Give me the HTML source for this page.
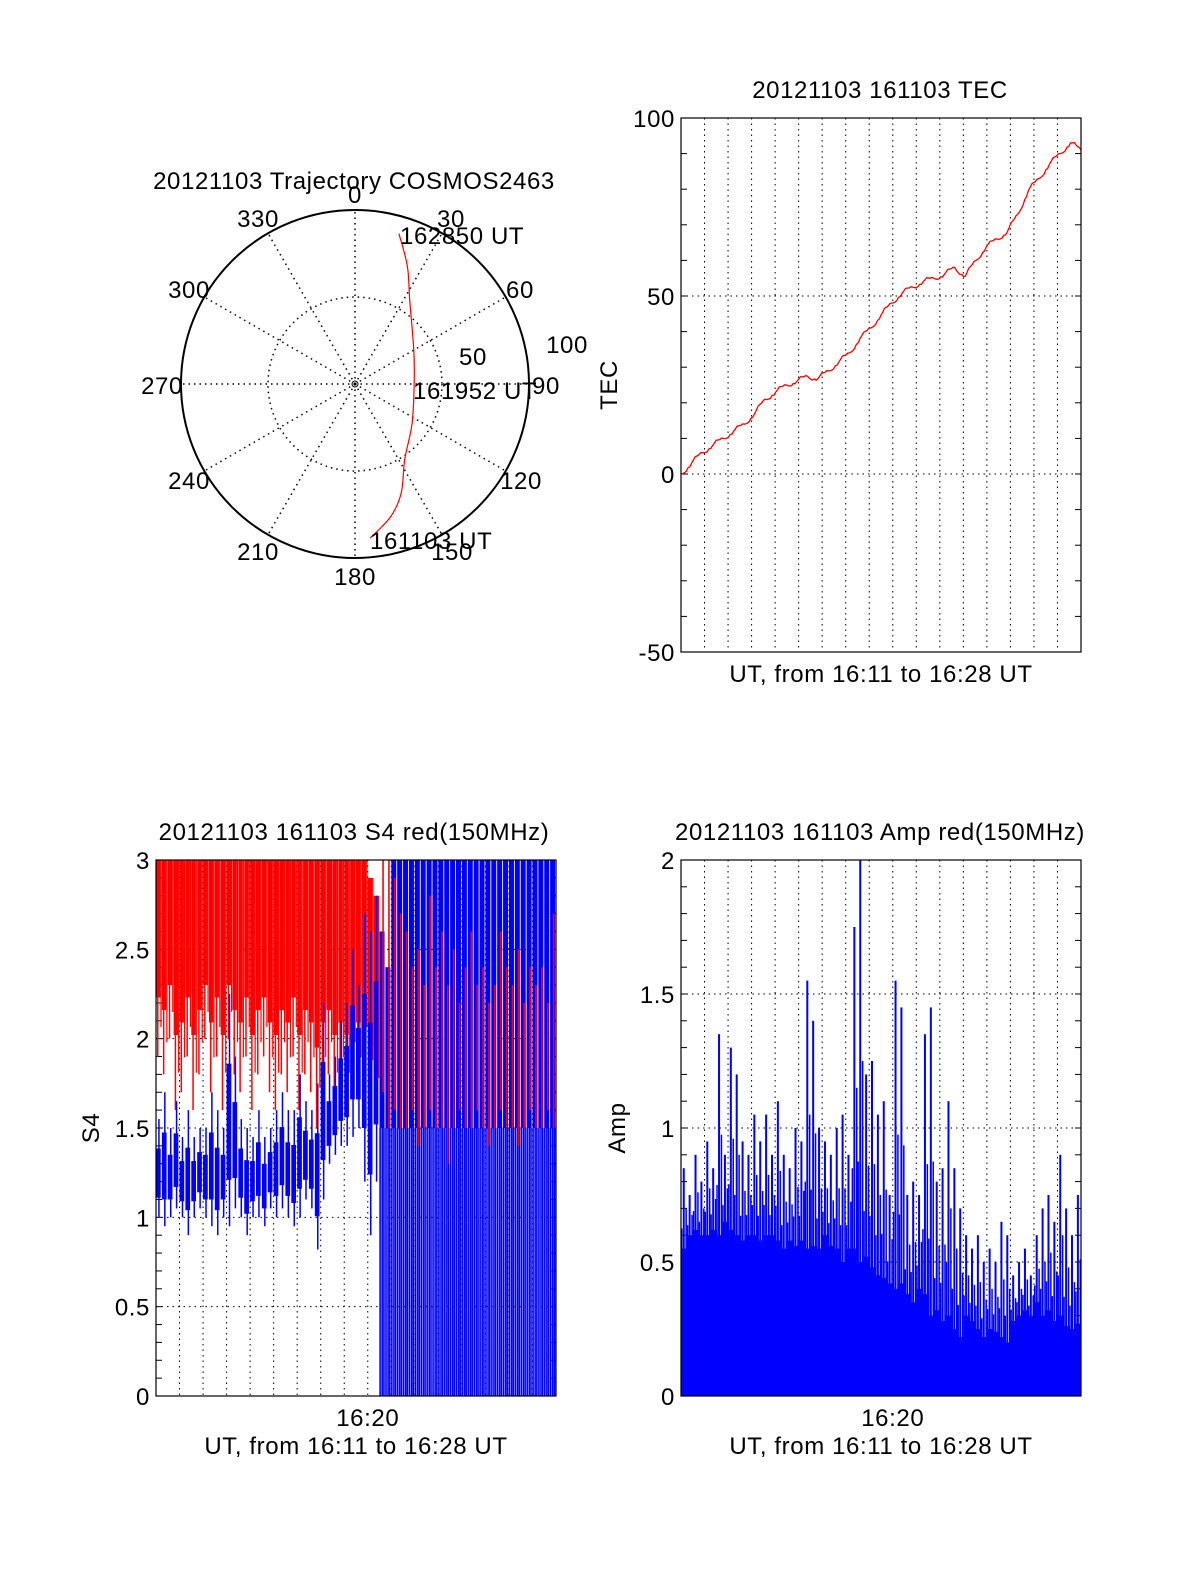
<!DOCTYPE html>
<html><head><meta charset="utf-8"><style>
html,body{margin:0;padding:0;background:#fff}
svg{display:block}
text{font-family:"Liberation Sans",sans-serif;font-size:24px;letter-spacing:0.6px;fill:#000}
</style></head><body>
<svg id="fig" width="1200" height="1575" viewBox="0 0 1200 1575" xmlns="http://www.w3.org/2000/svg">
<g id="polar"></g>
<g id="tec"></g>
<g id="s4"></g>
<g id="amp"></g>
</svg>
<script>
// ---- data ----
const trajAz = [174.4, 165, 157, 146.7, 125, 90, 60, 33, 24, 16.3];
const trajR  = [89, 79, 68, 52, 40, 34, 39, 57.7, 74, 90];
const trajLabels = ["161103 UT", "161952 UT", "162850 UT"];
const azLabels = [0,30,60,90,120,150,180,210,240,270,300,330];
// TEC, every half minute from 16:11 to 16:28
const tecValues = [0,3,6,8,10,12,14,17,21,23,25,26,27.5,26.7,29,31.5,34,38,41,44.6,48,50.8,52.5,54,55,56,58,55.5,60,63.8,66,68,73,79.6,83,87,90,93,91];
const tecTicks = [100,50,0,-50];
// S4, 4 bins per minute (68 bins)
const s4RedHi = [3,3,3,3,3,3,3,3,3,3,3,3,3,3,3,3,3,3,3,3,3,3,3,3,3,3,3,3,3,3,3,3,3,3,3,3,2.9,2.8,3,3,2.9,2.7,2.6,2.4,2.5,2.3,2.8,2.4,2.6,2.3,2.5,2.2,2.4,2.6,2.3,2.4,2.2,2.3,2.6,2.4,2.3,2.5,2.2,2.4,2.3,2.4,2.2,2.7];
const s4RedLo = [1.9,1.8,2.0,1.6,1.7,1.9,1.6,1.8,2.0,1.7,1.9,1.6,2.0,1.8,1.7,1.9,1.6,1.8,1.9,1.7,1.6,1.8,1.7,1.9,1.6,1.8,1.7,1.5,1.7,1.8,1.6,1.7,1.6,1.8,1.7,1.9,1.7,1.6,1.7,1.5,1.6,1.5,1.5,1.6,1.4,1.5,1.6,1.5,1.5,1.3,1.5,1.6,1.5,1.5,1.6,1.5,1.4,1.5,1.6,1.5,1.5,1.4,1.5,1.6,1.5,1.5,1.6,1.5];
const s4BlueHi = [1.55,1.7,1.5,1.65,1.45,1.6,1.45,1.5,1.5,1.7,1.6,1.5,2.25,1.9,1.55,1.5,1.45,1.6,1.45,1.5,1.6,1.7,1.6,1.6,1.8,1.65,1.6,1.75,2.2,1.8,1.9,2.1,2.2,2.5,2.3,2.7,2.6,2.8,2.6,2.4,3,3,3,3,3,3,3,3,3,3,3,3,3,3,3,3,3,3,3,3,3,3,3,3,3,3,3,3];
const s4BlueLo = [1.0,0.95,1.0,1.05,1.0,0.9,1.0,1.05,1.0,0.95,0.9,1.0,0.95,1.05,1.0,0.9,1.0,1.0,0.95,1.05,1.0,1.05,1.0,0.95,1.0,1.1,1.05,0.82,1.1,1.3,1.35,1.4,1.4,1.45,1.5,1.2,0.9,1.2,0.0,0.0,0,0,0,0,0,0,0,0,0,0,0,0,0,0,0,0,0,0,0,0,0,0,0,0,0,0,0,0];
const s4Ticks = ["0","0.5","1","1.5","2","2.5","3"];
// Amp, 4 bins per minute (68 bins)
const ampBase = [0.55,0.6,0.62,0.6,0.6,0.62,0.6,0.65,0.62,0.6,0.58,0.6,0.6,0.58,0.6,0.6,0.58,0.55,0.58,0.56,0.58,0.55,0.56,0.55,0.6,0.56,0.55,0.5,0.55,0.55,0.5,0.52,0.48,0.45,0.44,0.42,0.4,0.42,0.38,0.35,0.4,0.38,0.3,0.32,0.28,0.3,0.25,0.22,0.3,0.28,0.25,0.22,0.25,0.24,0.22,0.2,0.28,0.3,0.32,0.3,0.35,0.3,0.32,0.28,0.3,0.26,0.25,0.27];
const ampPeak = [0.85,0.75,0.9,0.8,0.95,0.85,1.35,0.9,1.3,1.2,0.95,0.9,1.05,0.95,1.05,0.9,1.1,0.9,0.85,1.0,0.95,1.55,1.4,1.0,0.95,0.9,1.0,1.05,0.9,1.75,2.0,1.2,1.25,1.05,1.1,0.75,1.55,1.45,0.75,0.8,0.75,1.35,1.45,0.8,0.85,1.1,0.85,0.7,0.6,0.55,0.6,0.5,0.55,0.5,0.65,0.6,0.45,0.5,0.55,0.45,0.6,0.7,0.75,0.65,0.9,0.7,0.6,0.75];
const ampTicks = ["0","0.5","1","1.5","2"];
const NS = "http://www.w3.org/2000/svg";
function mk(parent, tag, attrs, txt){
  const e = document.createElementNS(NS, tag);
  for (const k in attrs) e.setAttribute(k, attrs[k]);
  if (txt !== undefined) e.textContent = txt;
  parent.appendChild(e); return e;
}
// ---------- polar ----------
(function(){
  const g = document.getElementById('polar');
  const cx = 355, cy = 384, R = 174;
  const t = mk(g,'text',{x:354,y:189,'text-anchor':'middle'},"20121103 Trajectory COSMOS2463");
  
  
  for (let a=0;a<360;a+=30){
    const rad = a*Math.PI/180;
    const l = mk(g,'line',{x1:cx,y1:cy,x2:cx+R*Math.sin(rad),y2:cy-R*Math.cos(rad),stroke:'#000','stroke-width':1.5,'stroke-dasharray':'1.5 4'});
    
    
  }
  const c1 = mk(g,'circle',{cx:cx,cy:cy,r:R*0.5,fill:'none',stroke:'#000','stroke-width':1.5,'stroke-dasharray':'1.5 4'});
  
  
  const c2 = mk(g,'circle',{cx:cx,cy:cy,r:R,fill:'none',stroke:'#000','stroke-width':2});
  
  
  const c3 = mk(g,'circle',{cx:cx,cy:cy,r:3,fill:'none',stroke:'#000','stroke-width':1});
  
  
  const lp = {0:[355,203],30:[451,227],60:[520,298],90:[546,394],120:[521,489],150:[452,560],180:[355,585],210:[258,560],240:[189,489],270:[162,394],300:[189,298],330:[258,227]};
  azLabels.forEach(a=>{
    const p = lp[a];
    const e = mk(g,'text',{x:p[0],y:p[1],'text-anchor':'middle'},String(a));
    
    
  });
  const r100 = mk(g,'text',{x:567,y:353,'text-anchor':'middle'},"100");
  
  
  const r50 = mk(g,'text',{x:473,y:365,'text-anchor':'middle'},"50");
  
  
  const pts = trajAz.map((a,i)=>{const rad=a*Math.PI/180, r=trajR[i]/100*R; return [cx+r*Math.sin(rad), cy-r*Math.cos(rad)];});
  // smooth Catmull-Rom path through points
  let d = `M${pts[0][0]},${pts[0][1]}`;
  for (let i=0;i<pts.length-1;i++){
    const p0=pts[Math.max(0,i-1)], p1=pts[i], p2=pts[i+1], p3=pts[Math.min(pts.length-1,i+2)];
    const c1x=p1[0]+(p2[0]-p0[0])/6, c1y=p1[1]+(p2[1]-p0[1])/6;
    const c2x=p2[0]-(p3[0]-p1[0])/6, c2y=p2[1]-(p3[1]-p1[1])/6;
    d += ` C${c1x},${c1y} ${c2x},${c2y} ${p2[0]},${p2[1]}`;
  }
  const path = mk(g,'path',{d:d,fill:'none',stroke:'#f00','stroke-width':1.2});
  
  
  const labPos = [[370,549],[413,399],[400,244]];
  trajLabels.forEach((s,i)=>{
    const e = mk(g,'text',{x:labPos[i][0],y:labPos[i][1]},s);
    
    
  });
})();
// ---------- common axis frame ----------
function frame(g, x0, y0, x1, y1, ymin, ymax, ticks, minorStep, gridVals, title, titleX, ytitle, ytitleX, showTick){
  const sy = v => y1 - (v-ymin)/(ymax-ymin)*(y1-y0);
  const pw = (x1-x0)/17;
  for (let m=1;m<17;m++){
    const x = x0+m*pw;
    const l = mk(g,'line',{x1:x,y1:y0,x2:x,y2:y1,stroke:'#000','stroke-width':1,'stroke-dasharray':'1.5 4'});
    
    
  }
  gridVals.forEach(v=>{
    const l = mk(g,'line',{x1:x0,y1:sy(v),x2:x1,y2:sy(v),stroke:'#000','stroke-width':1,'stroke-dasharray':'1.5 4'});
    
    
  });
  for (let v=ymin; v<=ymax+1e-9; v+=minorStep){
    const y = sy(v);
    const a = mk(g,'line',{x1:x0,y1:y,x2:x0+6,y2:y,stroke:'#000','stroke-width':1});
    
    
    const b = mk(g,'line',{x1:x1-6,y1:y,x2:x1,y2:y,stroke:'#000','stroke-width':1});
    
    
  }
  ticks.forEach(s=>{
    const e = mk(g,'text',{x:x0-6,y:sy(parseFloat(s))+9,'text-anchor':'end'},s);
    
    
  });
  const t = mk(g,'text',{x:titleX,y:y0-20,'text-anchor':'middle'},title);
  
  
  const yt = mk(g,'text',{x:ytitleX,y:(y0+y1)/2,'text-anchor':'middle',transform:`rotate(-90 ${ytitleX} ${(y0+y1)/2})`},ytitle);
  
  
  let xtY = y1+30;
  if (showTick){
    const tk = mk(g,'text',{x:x0+9*pw,y:y1+30,'text-anchor':'middle'},"16:20");
    
    
    xtY = y1+58;
  }
  const xt = mk(g,'text',{x:(x0+x1)/2,y:xtY,'text-anchor':'middle'},"UT, from 16:11 to 16:28 UT");
  
  
  return sy;
}
function box(g,x0,y0,x1,y1){
  const r = mk(g,'rect',{x:x0,y:y0,width:x1-x0,height:y1-y0,fill:'none',stroke:'#000','stroke-width':1.2});
  
  
}
// ---------- TEC ----------
(function(){
  const g = document.getElementById('tec');
  const x0=681,y0=118,x1=1081,y1=652;
  const sy = frame(g,x0,y0,x1,y1,-50,100,tecTicks.map(String),10,[50,0],"20121103 161103 TEC",880,"TEC",617,false);
  const sx = i => x0 + i/(tecValues.length-1)*(x1-x0);
  const pts = [];
  const jit = [0.6,-0.4,0.8,-0.7,0.3,-0.5];
  tecValues.forEach((v,i)=>{
    pts.push([sx(i), sy(v)]);
    if (i<tecValues.length-1){
      const n = tecValues[i+1];
      for (let k=1;k<6;k++) pts.push([sx(i+k/6), sy(v+(n-v)*k/6+jit[k]*((i+k)%2?1:-0.8))]);
    }
  });
  const l = mk(g,'polyline',{points:pts.map(p=>p[0].toFixed(1)+','+p[1].toFixed(1)).join(' '),fill:'none',stroke:'#f00','stroke-width':1.3});
  
  
  box(g,x0,y0,x1,y1);
})();
// ---------- S4 ----------
(function(){
  const g = document.getElementById('s4');
  const x0=156,y0=860,x1=556,y1=1396;
  const sy = frame(g,x0,y0,x1,y1,0,3,s4Ticks,0.1,[0.5,1,1.5,2,2.5],"20121103 161103 S4 red(150MHz)",354,"S4",99,true);
  const n = s4RedHi.length, bw = (x1-x0)/n;
  // red: first half core + spikes
  for (let i=0;i<n;i++){
    if (s4BlueLo[i] === 0) continue;
    const hi=s4RedHi[i], lo=s4RedLo[i], core=lo+0.3*(hi-lo);
    const r = mk(g,'rect',{x:x0+i*bw,y:sy(hi),width:bw*0.75,height:sy(core)-sy(hi),fill:'#f00'});
    
    
    const s = mk(g,'line',{x1:x0+(i+0.3)*bw,y1:sy(core),x2:x0+(i+0.3)*bw,y2:sy(lo),stroke:'#f00','stroke-width':1.5});
    
    
    const s2 = mk(g,'line',{x1:x0+(i+0.85)*bw,y1:sy(hi),x2:x0+(i+0.85)*bw,y2:sy((core+lo)/2),stroke:'#f00','stroke-width':1.2});
    
    
  }
  // blue
  for (let i=0;i<n;i++){
    const hi=s4BlueHi[i], lo=s4BlueLo[i];
    if (lo !== 0){
      const cLo=lo+0.2*(hi-lo), cHi=hi-0.3*(hi-lo);
      const b = mk(g,'rect',{x:x0+i*bw,y:sy(cHi),width:bw*0.8,height:sy(cLo)-sy(cHi),fill:'#00f'});
      
      
      const s = mk(g,'line',{x1:x0+(i+0.5)*bw,y1:sy(hi),x2:x0+(i+0.5)*bw,y2:sy(lo),stroke:'#00f','stroke-width':1.5});
      
      
    } else {
      const b = mk(g,'rect',{x:x0+i*bw,y:sy(hi),width:bw*0.85,height:sy(1.5)-sy(hi),fill:'#00f'});
      
      
      [0.1,0.45,0.75].forEach(f=>{
        const s = mk(g,'line',{x1:x0+(i+f)*bw,y1:sy(1.5),x2:x0+(i+f)*bw,y2:sy(lo),stroke:'#00f','stroke-width':1.6});
        
        
      });
    }
  }
  // red spikes over blue in second half
  for (let i=0;i<n;i++){
    if (s4BlueLo[i] !== 0) continue;
    const s = mk(g,'line',{x1:x0+(i+0.6)*bw,y1:sy(s4RedHi[i]),x2:x0+(i+0.6)*bw,y2:sy(s4RedLo[i]),stroke:'#f00','stroke-width':1.6});
    
    
  }
  box(g,x0,y0,x1,y1);
})();
// ---------- Amp ----------
(function(){
  const g = document.getElementById('amp');
  const x0=681,y0=860,x1=1081,y1=1396;
  const sy = frame(g,x0,y0,x1,y1,0,2,ampTicks,0.1,[0.5,1,1.5],"20121103 161103 Amp red(150MHz)",880,"Amp",625,true);
  const n = ampBase.length, bw = (x1-x0)/n;
  for (let i=0;i<n;i++){
    const r = mk(g,'rect',{x:x0+i*bw,y:sy(ampBase[i]),width:bw+0.3,height:y1-sy(ampBase[i]),fill:'#00f'});
    
    
    const s = mk(g,'rect',{x:x0+i*bw+bw*0.3,y:sy(ampPeak[i]),width:2,height:y1-sy(ampPeak[i]),fill:'#00f'});
    
    
    const mid = (ampBase[i]+ampPeak[i])/2;
    const s2 = mk(g,'rect',{x:x0+i*bw+bw*0.75,y:sy(mid),width:1.5,height:y1-sy(mid),fill:'#00f'});
    
    
    const q = ampBase[i]+(ampPeak[i]-ampBase[i])*0.25;
    const s3 = mk(g,'rect',{x:x0+i*bw,y:sy(q),width:bw*0.25,height:y1-sy(q),fill:'#00f'});
    
    
  }
  box(g,x0,y0,x1,y1);
})();
</script>
</body></html>
